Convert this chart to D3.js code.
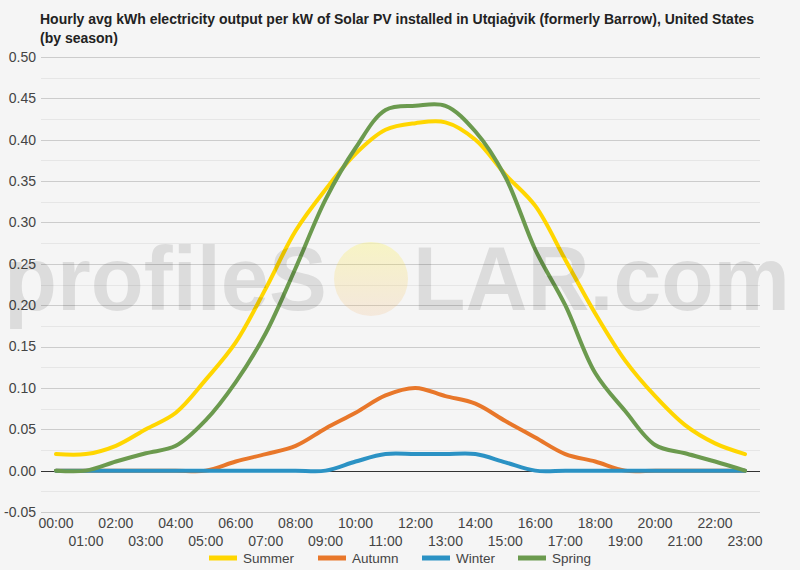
<html>
<head>
<meta charset="utf-8">
<style type="text/css">
  body { margin: 0; background: #f5f5f5; }
  text { font-family: Arial, "Liberation Sans", sans-serif; }
  .title { font-size: 14px; font-weight: bold; fill: #222; }
  .tick-label { font-size: 14px; fill: #444; }
  .grid.major { stroke: #cccccc; stroke-width: 1; }
  .grid.minor { stroke: #e6e6e6; stroke-width: 1; }
  .zero { stroke: #333; stroke-width: 1; }
  .series { fill: none; stroke-width: 4; stroke-linejoin: round; stroke-linecap: round; }
  .legend text { font-size: 13.5px; fill: #444; }
  .mark { font-size: 90px; font-weight: bold; fill: #000; fill-opacity: 0.1; }
</style>
<script src="https://d3js.org/d3.v7.min.js"></script>
</head>
<body>
<script type="text/javascript">
var hours = ["00:00","01:00","02:00","03:00","04:00","05:00","06:00","07:00","08:00","09:00","10:00","11:00",
             "12:00","13:00","14:00","15:00","16:00","17:00","18:00","19:00","20:00","21:00","22:00","23:00"];

var summer = [0.02, 0.02, 0.03, 0.05, 0.07, 0.11, 0.155, 0.22, 0.29, 0.34, 0.383, 0.412,
              0.42, 0.421, 0.40, 0.358, 0.32, 0.255, 0.19, 0.133, 0.09, 0.055, 0.033, 0.02];
var autumn = [0, 0, 0, 0, 0, 0, 0.011, 0.02, 0.03, 0.051, 0.07, 0.091,
              0.1, 0.09, 0.081, 0.06, 0.04, 0.02, 0.011, 0, 0, 0, 0, 0];
var winter = [0, 0, 0, 0, 0, 0, 0, 0, 0, 0, 0.011, 0.02,
              0.02, 0.02, 0.02, 0.01, 0, 0, 0, 0, 0, 0, 0, 0];
var spring = [0, 0, 0.011, 0.021, 0.03, 0.061, 0.107, 0.166, 0.245, 0.328, 0.39, 0.436,
              0.441, 0.441, 0.41, 0.355, 0.267, 0.2, 0.118, 0.072, 0.031, 0.021, 0.011, 0];

var seriesNames = ["Summer", "Autumn", "Winter", "Spring"];
var seriesColors = ["#ffd600", "#e8772a", "#2b92c4", "#6b9a4e"];
var seriesData = [summer, autumn, winter, spring];

var yTicks = [-0.05, 0, 0.05, 0.1, 0.15, 0.2, 0.25, 0.3, 0.35, 0.4, 0.45, 0.5];
var yMinor = [-0.025, 0.025, 0.075, 0.125, 0.175, 0.225, 0.275, 0.325, 0.375, 0.425, 0.475];

var titleLines = ["Hourly avg kWh electricity output per kW of Solar PV installed in Utqia\u0121vik (formerly Barrow), United States",
                  "(by season)"];

var W = 800, H = 570;
var plotLeft = 41, plotRight = 760, plotTop = 57, plotBottom = 512;

var svg = d3.select("body").append("svg")
  .attr("width", W).attr("height", H);

svg.append("rect").attr("width", W).attr("height", H).attr("fill", "#f5f5f5");

var x = d3.scalePoint().domain(hours).range([plotLeft, plotRight]).padding(0.5);
var y = d3.scaleLinear().domain([-0.05, 0.5]).range([plotBottom, plotTop]);

// title
svg.selectAll("text.title")
  .data(titleLines).enter()
  .append("text").attr("class", "title")
  .attr("x", 40).attr("y", function(d, i) { return 24 + i * 19; })
  .text(function(d) { return d; });

// grid
svg.selectAll("line.minor")
  .data(yMinor).enter().append("line")
  .attr("class", "grid minor")
  .attr("x1", plotLeft).attr("x2", plotRight)
  .attr("y1", function(d) { return Math.round(y(d)) + 0.5; })
  .attr("y2", function(d) { return Math.round(y(d)) + 0.5; });

svg.selectAll("line.major")
  .data(yTicks.filter(function(d) { return d !== 0; })).enter().append("line")
  .attr("class", "grid major")
  .attr("x1", plotLeft).attr("x2", plotRight)
  .attr("y1", function(d) { return Math.round(y(d)) + 0.5; })
  .attr("y2", function(d) { return Math.round(y(d)) + 0.5; });

// y labels (plain hyphen for negatives, like the original)
svg.selectAll("text.ylab")
  .data(yTicks).enter().append("text")
  .attr("class", "tick-label ylab")
  .attr("x", 36).attr("y", function(d) { return y(d); })
  .attr("dy", "0.35em")
  .attr("text-anchor", "end")
  .text(function(d) { return d.toFixed(2); });

// x labels, two rows
svg.selectAll("text.xlab")
  .data(hours).enter().append("text")
  .attr("class", "tick-label xlab")
  .attr("x", function(d) { return x(d); })
  .attr("y", function(d, i) { return i % 2 === 0 ? 528 : 546; })
  .attr("text-anchor", "middle")
  .text(function(d) { return d; });

// zero line
svg.append("line").attr("class", "zero")
  .attr("x1", plotLeft).attr("x2", plotRight)
  .attr("y1", Math.round(y(0)) + 0.5).attr("y2", Math.round(y(0)) + 0.5);

// lines
var line = d3.line()
  .x(function(d, i) { return x(hours[i]); })
  .y(function(d) { return y(d); })
  .curve(d3.curveCatmullRom.alpha(0.5));

svg.selectAll("path.series")
  .data(seriesData).enter().append("path")
  .attr("class", "series")
  .attr("stroke", function(d, i) { return seriesColors[i]; })
  .attr("d", function(d) { return line(d); });

// watermark on top
var defs = svg.append("defs");
var grad = defs.append("linearGradient").attr("id", "sun")
  .attr("x1", 0).attr("y1", 0).attr("x2", 0).attr("y2", 1);
grad.append("stop").attr("offset", "0%").attr("stop-color", "#fff200").attr("stop-opacity", 0.2);
grad.append("stop").attr("offset", "100%").attr("stop-color", "#f0a050").attr("stop-opacity", 0.15);

var mark = svg.append("g").attr("class", "watermark");
mark.append("text").attr("class", "mark")
  .attr("x", 4).attr("y", 310)
  .attr("textLength", 323).attr("lengthAdjust", "spacingAndGlyphs")
  .text("profileS");
mark.append("circle").attr("cx", 371).attr("cy", 279).attr("r", 37).attr("fill", "url(#sun)");
mark.append("text").attr("class", "mark")
  .attr("x", 413).attr("y", 310)
  .attr("textLength", 377).attr("lengthAdjust", "spacingAndGlyphs")
  .text("LAR.com");

// legend
var legendX = [209, 318, 422, 518];
var legend = svg.append("g").attr("class", "legend");
var items = legend.selectAll("g").data(seriesNames).enter().append("g")
  .attr("transform", function(d, i) { return "translate(" + legendX[i] + ",558)"; });
items.append("line")
  .attr("x1", 0).attr("x2", 28).attr("y1", 0).attr("y2", 0)
  .attr("stroke", function(d, i) { return seriesColors[i]; })
  .attr("stroke-width", 5);
items.append("text")
  .attr("x", 34).attr("y", 0).attr("dy", "0.35em")
  .text(function(d) { return d; });
</script>
</body>
</html>
